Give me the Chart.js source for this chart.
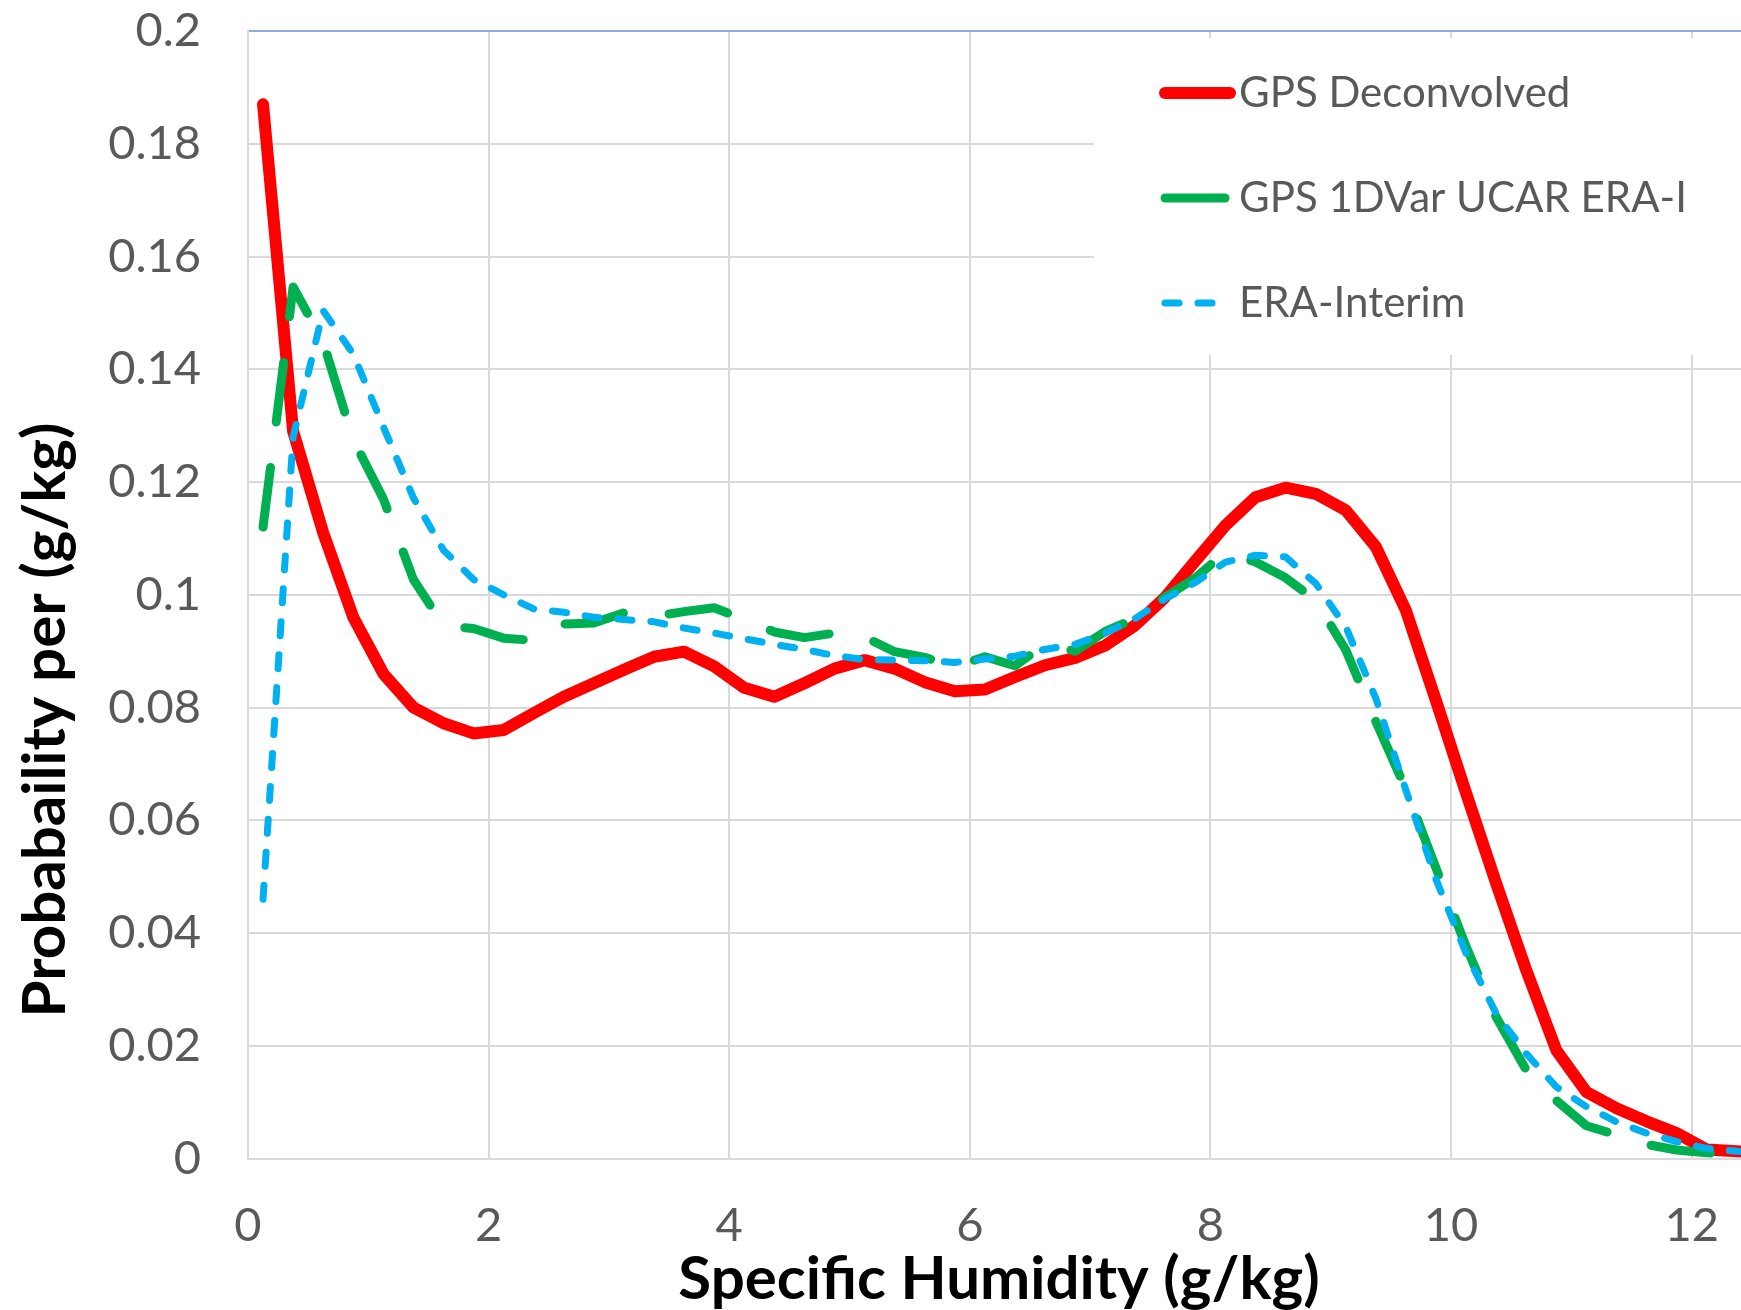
<!DOCTYPE html>
<html>
<head>
<meta charset="utf-8">
<script src="https://cdn.jsdelivr.net/npm/chart.js@4.4.1/dist/chart.umd.min.js"></script>
<style>
  html, body { margin: 0; padding: 0; background: #fff; }
  #wrap { width: 1741px; height: 1310px; position: relative; }
</style>
</head>
<body>
<div id="wrap"><canvas id="grafico"></canvas></div>
<script>
// bin centres (g/kg)
const humidity = [0.125, 0.375, 0.625, 0.875, 1.125, 1.375, 1.625, 1.875, 2.125, 2.375,
  2.625, 2.875, 3.125, 3.375, 3.625, 3.875, 4.125, 4.375, 4.625, 4.875,
  5.125, 5.375, 5.625, 5.875, 6.125, 6.375, 6.625, 6.875, 7.125, 7.375,
  7.625, 7.875, 8.125, 8.375, 8.625, 8.875, 9.125, 9.375, 9.625, 9.875,
  10.125, 10.375, 10.625, 10.875, 11.125, 11.375, 11.625, 11.875, 12.125, 12.375,
  12.625];

const gpsDeconvolved = [0.187, 0.129, 0.111, 0.096, 0.086, 0.080, 0.0772, 0.0754, 0.0760, 0.0790,
  0.0819, 0.0843, 0.0867, 0.0890, 0.0899, 0.0873, 0.0835, 0.0819, 0.0843, 0.0869,
  0.0884, 0.0869, 0.0845, 0.0829, 0.0832, 0.0854, 0.0875, 0.0888, 0.0910, 0.0946,
  0.0996, 0.1060, 0.1123, 0.1173, 0.1190, 0.1179, 0.1150, 0.1085, 0.0972, 0.0812,
  0.0648, 0.0488, 0.0334, 0.0192, 0.0118, 0.0089, 0.0066, 0.0045, 0.0016, 0.0013,
  0.0010];

const gps1DVar = [0.112, 0.1546, 0.1448, 0.1275, 0.1170, 0.1027, 0.0945, 0.0940, 0.0923, 0.0919,
  0.0948, 0.0950, 0.0968, 0.0962, 0.0970, 0.0977, 0.0956, 0.0934, 0.0924, 0.0932,
  0.0925, 0.0899, 0.0889, 0.0872, 0.0890, 0.0874, 0.0912, 0.0900, 0.0935, 0.0958,
  0.0996, 0.1030, 0.1076, 0.1058, 0.1030, 0.0990, 0.0902, 0.0775, 0.0655, 0.0515,
  0.0376, 0.0251, 0.0157, 0.0103, 0.0058, 0.0042, 0.0025, 0.0015, 0.0010, 0.0008,
  0.0006];

const eraInterim = [0.046, 0.128, 0.1504, 0.1427, 0.1298, 0.1172, 0.1079, 0.1027, 0.1000, 0.0975,
  0.0969, 0.0960, 0.0956, 0.0952, 0.0941, 0.0932, 0.0922, 0.0912, 0.0903, 0.0892,
  0.0885, 0.0884, 0.0883, 0.0880, 0.0886, 0.0891, 0.0903, 0.0912, 0.0932, 0.0958,
  0.0993, 0.1022, 0.1058, 0.1070, 0.1067, 0.1020, 0.0943, 0.0816, 0.0653, 0.0495,
  0.0364, 0.0257, 0.0186, 0.0127, 0.0092, 0.0065, 0.0045, 0.0030, 0.0018, 0.0013,
  0.0010];

const seriesNames = ['GPS Deconvolved', 'GPS 1DVar UCAR ERA-I', 'ERA-Interim'];
const xTitle = 'Specific Humidity (g/kg)';
const yTitle = 'Probabaility per (g/kg)';

const gridColor = '#d9d9d9';
const tickColor = '#595959';

function pontos(valores) {
  return humidity.map((x, i) => ({ x: x, y: valores[i] }));
}

// titles and the in-plot legend box
const extras = {
  id: 'extras',
  afterDraw(chart) {
    const ctx = chart.ctx;
    ctx.save();
    ctx.fillStyle = '#ffffff';
    ctx.fillRect(1094, 38, 1741 - 1094, 355 - 38);

    const rows = [93, 198, 303];
    chart.data.datasets.forEach((ds, i) => {
      const y = rows[i];
      ctx.strokeStyle = ds.borderColor;
      ctx.lineWidth = ds.borderWidth;
      ctx.lineCap = 'round';
      ctx.setLineDash(ds.borderDash || []);
      ctx.beginPath();
      ctx.moveTo(1165, y);
      ctx.lineTo(1230, y);
      ctx.stroke();
      ctx.setLineDash([]);
      ctx.fillStyle = tickColor;
      ctx.font = '42px Lato';
      ctx.textAlign = 'left';
      ctx.textBaseline = 'middle';
      ctx.fillText(ds.label, 1239, y);
    });

    ctx.fillStyle = '#000000';
    ctx.font = 'bold 60px Lato';
    ctx.textAlign = 'center';
    ctx.textBaseline = 'alphabetic';
    ctx.fillText(xTitle, 999, 1299);

    ctx.translate(65, 720);
    ctx.rotate(-Math.PI / 2);
    ctx.fillText(yTitle, 0, 0);
    ctx.restore();
  }
};

Chart.defaults.font.family = 'Lato';

const chart = new Chart(document.getElementById('grafico').getContext('2d'), {
  type: 'line',
  data: {
    datasets: [{
      label: seriesNames[0],
      data: pontos(gpsDeconvolved),
      borderColor: '#ff0000',
      borderWidth: 12,
      order: 3
    }, {
      label: seriesNames[1],
      data: pontos(gps1DVar),
      borderColor: '#00b050',
      borderWidth: 9,
      borderDash: [60, 46],
      order: 2
    }, {
      label: seriesNames[2],
      data: pontos(eraInterim),
      borderColor: '#00b0f0',
      borderWidth: 7,
      borderDash: [14, 19],
      order: 1
    }]
  },
  options: {
    responsive: true,
    maintainAspectRatio: false,
    animation: false,
    layout: { padding: { top: 31, left: 0, right: 0, bottom: 0 } },
    elements: {
      point: { radius: 0 },
      line: { tension: 0, borderCapStyle: 'round', borderJoinStyle: 'round', fill: false }
    },
    plugins: {
      legend: { display: false },
      tooltip: { enabled: false }
    },
    scales: {
      x: {
        type: 'linear',
        min: 0,
        max: 12.41,
        afterFit: (scale) => {
          scale.height = 151.5;
          scale.paddingLeft = 0;
          scale.paddingRight = 0;
        },
        grid: { color: gridColor, lineWidth: 2, drawTicks: false },
        border: { color: gridColor, width: 2 },
        ticks: {
          stepSize: 2,
          includeBounds: false,
          padding: 39,
          color: tickColor,
          font: { size: 47 },
          maxRotation: 0
        }
      },
      y: {
        min: 0,
        max: 0.2,
        afterFit: (scale) => {
          scale.width = 248;
          scale.paddingTop = 0;
          scale.paddingBottom = 0;
        },
        grid: {
          color: (c) => (c.tick && c.tick.value > 0.199 ? '#8eaadb' : gridColor),
          lineWidth: 2,
          drawTicks: false
        },
        border: { color: gridColor, width: 2 },
        ticks: {
          stepSize: 0.02,
          padding: 47,
          color: tickColor,
          font: { size: 47 },
          callback: (v) => String(Number(v.toFixed(2)))
        }
      }
    }
  },
  plugins: [extras]
});
</script>
</body>
</html>
